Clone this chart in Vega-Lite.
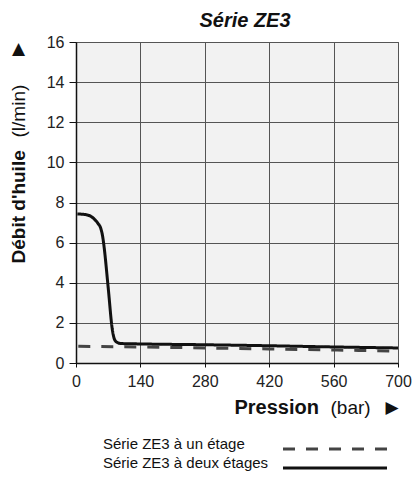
{
  "$schema": "https://vega.github.io/schema/vega-lite/v6.json",
  "width": 322,
  "height": 321,
  "autosize": {"type": "none"},
  "padding": {"left": 76, "top": 42, "right": 16, "bottom": 116},
  "background": "white",
  "title": {"text": "Série ZE3", "font": "Liberation Sans", "fontSize": 20, "fontWeight": "bold", "fontStyle": "italic", "color": "#111", "anchor": "middle", "dx": 8, "offset": 3},
  "config": {
    "view": {"fill": "#f2f2f2", "stroke": "#555", "strokeWidth": 1},
    "font": "Liberation Sans",
    "axis": {"labelFont": "Liberation Sans", "titleFont": "Liberation Sans", "labelColor": "#222", "titleColor": "#111", "domainColor": "#111", "tickColor": "#111", "gridColor": "#555", "gridOpacity": 1, "gridWidth": 1},
    "legend": {"title": null, "orient": "none", "legendX": 27, "legendY": 399, "padding": 0, "symbolType": "M-8,0H8", "symbolSize": 169, "symbolStrokeWidth": 3, "symbolOffset": 224, "labelOffset": -240, "labelAlign": "left", "labelBaseline": "alphabetic", "labelFontSize": 15, "labelColor": "#111", "labelFont": "Liberation Sans", "labelLimit": 400, "rowPadding": 1}
  },
  "data": {
    "values": [
      {"s": "Série ZE3 à deux étages", "p": 3, "q": 7.43},
      {"s": "Série ZE3 à deux étages", "p": 20, "q": 7.4},
      {"s": "Série ZE3 à deux étages", "p": 33, "q": 7.3},
      {"s": "Série ZE3 à deux étages", "p": 42, "q": 7.12},
      {"s": "Série ZE3 à deux étages", "p": 48, "q": 6.95},
      {"s": "Série ZE3 à deux étages", "p": 54, "q": 6.7},
      {"s": "Série ZE3 à deux étages", "p": 58, "q": 6.3},
      {"s": "Série ZE3 à deux étages", "p": 61, "q": 5.8},
      {"s": "Série ZE3 à deux étages", "p": 70, "q": 3.75},
      {"s": "Série ZE3 à deux étages", "p": 79, "q": 1.66},
      {"s": "Série ZE3 à deux étages", "p": 82, "q": 1.3},
      {"s": "Série ZE3 à deux étages", "p": 85, "q": 1.12},
      {"s": "Série ZE3 à deux étages", "p": 90, "q": 1.02},
      {"s": "Série ZE3 à deux étages", "p": 98, "q": 0.97},
      {"s": "Série ZE3 à deux étages", "p": 140, "q": 0.95},
      {"s": "Série ZE3 à deux étages", "p": 280, "q": 0.91},
      {"s": "Série ZE3 à deux étages", "p": 420, "q": 0.86},
      {"s": "Série ZE3 à deux étages", "p": 560, "q": 0.8},
      {"s": "Série ZE3 à deux étages", "p": 700, "q": 0.75},
      {"s": "Série ZE3 à un étage", "p": 5, "q": 0.83},
      {"s": "Série ZE3 à un étage", "p": 140, "q": 0.8},
      {"s": "Série ZE3 à un étage", "p": 280, "q": 0.75},
      {"s": "Série ZE3 à un étage", "p": 420, "q": 0.7},
      {"s": "Série ZE3 à un étage", "p": 560, "q": 0.65},
      {"s": "Série ZE3 à un étage", "p": 700, "q": 0.59}
    ]
  },
  "resolve": {"axis": {"x": "independent", "y": "independent"}},
  "layer": [
    {
      "mark": {"type": "line", "strokeWidth": 3, "interpolate": "monotone"},
      "encoding": {
        "x": {"field": "p", "type": "quantitative", "scale": {"domain": [0, 700], "nice": false},
          "axis": {"orient": "bottom", "values": [0, 140, 280, 420, 560, 700], "title": "Pression", "titleFontWeight": "bold", "titleFontSize": 20, "titleX": 158, "titleY": 44, "titleAlign": "left", "titleBaseline": "middle", "titleAngle": 0, "labelFontSize": 16, "tickSize": 4, "labelPadding": 6, "labelFlush": false, "grid": true, "domainWidth": 1.5}},
        "y": {"field": "q", "type": "quantitative", "scale": {"domain": [0, 16], "nice": false},
          "axis": {"orient": "left", "values": [0, 2, 4, 6, 8, 10, 12, 14, 16], "title": "Débit d'huile", "titleFontWeight": "bold", "titleFontSize": 19, "titleAngle": 270, "titleX": -58, "titleY": 221, "titleAlign": "left", "titleBaseline": "middle", "labelFontSize": 16, "tickSize": 7, "labelPadding": 5, "grid": true, "domainWidth": 1.5}},
        "color": {"field": "s", "type": "nominal", "scale": {"domain": ["Série ZE3 à un étage", "Série ZE3 à deux étages"], "range": ["#444444", "#111111"]}},
        "strokeDash": {"field": "s", "type": "nominal", "scale": {"domain": ["Série ZE3 à un étage", "Série ZE3 à deux étages"], "range": [[12, 11], [1, 0]]}}
      }
    },
    {
      "mark": {"type": "line", "strokeOpacity": 0},
      "encoding": {
        "x": {"field": "p", "type": "quantitative", "scale": {"domain": [0, 700], "nice": false},
          "axis": {"orient": "bottom", "title": "(bar)", "titleFontWeight": "normal", "titleFontSize": 19, "titleX": 254, "titleY": 44, "titleAlign": "left", "titleBaseline": "middle", "titleAngle": 0, "labels": false, "ticks": false, "domain": false, "grid": false}},
        "y": {"field": "q", "type": "quantitative", "scale": {"domain": [0, 16], "nice": false},
          "axis": {"orient": "left", "title": "(l/min)", "titleFontWeight": "normal", "titleFontSize": 19, "titleAngle": 270, "titleX": -58, "titleY": 95, "titleAlign": "left", "titleBaseline": "middle", "labels": false, "ticks": false, "domain": false, "grid": false}},
        "detail": {"field": "s"}
      }
    },
    {
      "mark": {"type": "line", "strokeOpacity": 0},
      "encoding": {
        "x": {"field": "p", "type": "quantitative", "scale": {"domain": [0, 700], "nice": false},
          "axis": {"orient": "bottom", "title": "▶", "titleFont": "DejaVu Sans", "titleFontWeight": "normal", "titleFontSize": 17, "titleX": 309, "titleY": 44, "titleAlign": "left", "titleBaseline": "middle", "titleAngle": 0, "labels": false, "ticks": false, "domain": false, "grid": false}},
        "y": {"field": "q", "type": "quantitative", "scale": {"domain": [0, 16], "nice": false},
          "axis": {"orient": "left", "title": "▲", "titleFont": "DejaVu Sans", "titleFontWeight": "normal", "titleFontSize": 17, "titleAngle": 0, "titleX": -58, "titleY": 6, "titleAlign": "center", "titleBaseline": "middle", "labels": false, "ticks": false, "domain": false, "grid": false}},
        "detail": {"field": "s"}
      }
    }
  ]
}
